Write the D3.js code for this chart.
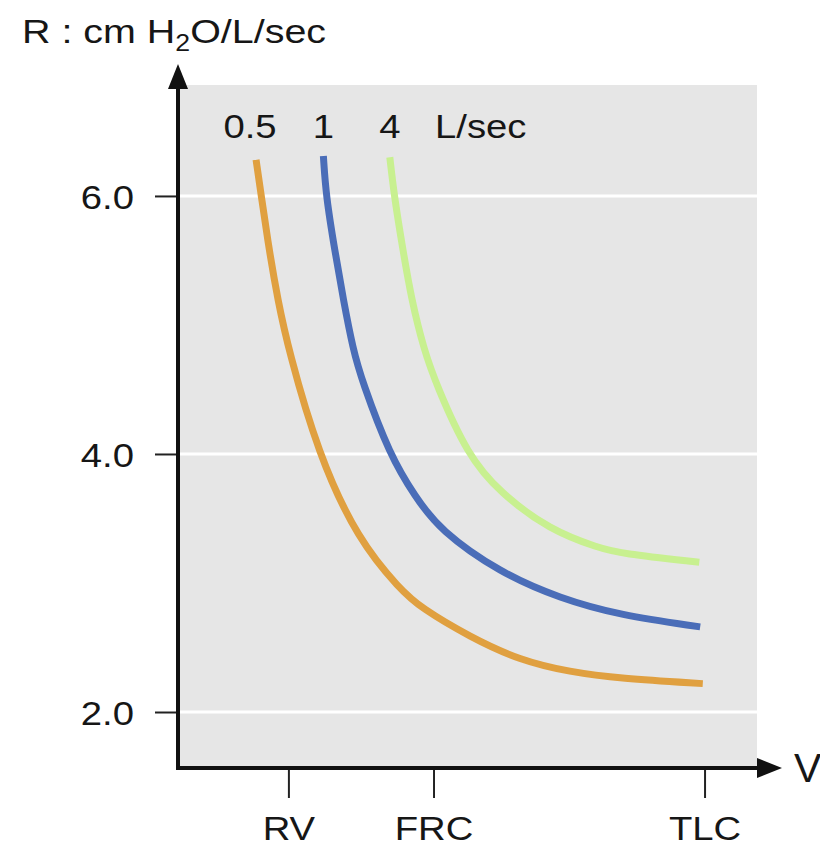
<!DOCTYPE html>
<html>
<head>
<meta charset="utf-8">
<script src="https://cdn.jsdelivr.net/npm/d3@7"></script>
<style>
  body { margin: 0; background: #fff; }
  text { font-family: "Liberation Sans", Arial, sans-serif; fill: #161616; }
</style>
</head>
<body>
<svg id="chart" width="820" height="851"></svg>
<script>
// Flow rates (legend) and curve colours
const flowLabels = ["0.5", "1", "4"];
const flowUnit = "L/sec";
const flowColors = ["#E0A040", "#4A6DB8", "#C8F090"];

// Lung volume (L) ticks on the x axis
const volTickValues = [1.24, 2.9, 6.0];
const volTickLabels = ["RV", "FRC", "TLC"];

// Resistance ticks on the y axis
const resTickValues = [2.0, 4.0, 6.0];

// Curve at 0.5 L/sec
const vol05 = [0.87, 0.93, 1.02, 1.12, 1.24, 1.58, 2.04, 2.52, 2.75, 3.32, 3.89, 4.46, 5.03, 5.98];
const res05 = [6.28, 6.00, 5.58, 5.19, 4.81, 4.00, 3.33, 2.95, 2.81, 2.58, 2.40, 2.31, 2.26, 2.22];

// Curve at 1 L/sec
const vol1 = [1.64, 1.67, 1.77, 1.87, 1.98, 2.08, 2.40, 2.69, 2.97, 3.66, 4.35, 5.03, 5.95];
const res1 = [6.31, 6.00, 5.58, 5.19, 4.81, 4.57, 3.99, 3.67, 3.41, 3.08, 2.88, 2.75, 2.66];

// Curve at 4 L/sec
const vol4 = [2.40, 2.45, 2.55, 2.65, 2.79, 2.93, 3.29, 3.66, 4.23, 4.80, 5.03, 5.94];
const res4 = [6.30, 6.00, 5.58, 5.19, 4.81, 4.54, 3.99, 3.70, 3.41, 3.27, 3.23, 3.16];

const series = [
    { vol: vol05, res: res05 },
    { vol: vol1, res: res1 },
    { vol: vol4, res: res4 }
];

const SX = 1.16;   // the lettering in the figure is a bit wider than Arial

const svg = d3.select('#chart');

// Plot box
const plotLeft = 180, plotRight = 757, plotTop = 85, plotBottom = 768;

const x = d3.scaleLinear().domain([0, 6.6]).range([plotLeft, plotRight]);
const y = d3.scaleLinear().domain([1.566, 6.86]).range([plotBottom, plotTop]);

// Grey panel
svg.append('rect')
    .attr('x', plotLeft).attr('y', plotTop)
    .attr('width', plotRight - plotLeft).attr('height', plotBottom - plotTop)
    .attr('fill', '#E6E6E6');

// White grid lines
svg.selectAll('.grid')
    .data(resTickValues)
    .enter()
    .append('line')
    .attr('class', 'grid')
    .attr('x1', plotLeft).attr('x2', plotRight)
    .attr('y1', d => y(d)).attr('y2', d => y(d))
    .attr('stroke', '#fff')
    .attr('stroke-width', 3);

// Curves
const line = d3.line()
    .x(d => x(d[0]))
    .y(d => y(d[1]))
    .curve(d3.curveBasis);

series.forEach((s, i) => {
    svg.append('path')
        .datum(d3.zip(s.vol, s.res))
        .attr('d', line)
        .attr('fill', 'none')
        .attr('stroke', flowColors[i])
        .attr('stroke-width', 7);
});

// Helper: widen text horizontally around its anchor
function widen(sel, tx, ty) {
    sel.attr('transform', `translate(${tx},${ty}) scale(${SX},1)`);
}

// Y axis
const axisX = 178;
const yAxis = svg.append('g')
    .attr('transform', `translate(${axisX},0)`)
    .call(d3.axisLeft(y).tickValues(resTickValues).tickSize(23).tickFormat(d3.format('.1f')));
yAxis.select('.domain').remove();
yAxis.selectAll('line').attr('stroke', '#222').attr('stroke-width', 2);
yAxis.selectAll('text').each(function() {
    const t = d3.select(this);
    t.attr('x', 0).attr('dy', '0.37em')
        .style('font-size', '33px').attr('fill', '#161616');
    widen(t, -44, 0);
});
yAxis.attr('font-family', null).attr('font-size', null);

// X axis
const xAxis = svg.append('g')
    .attr('transform', `translate(0,${plotBottom})`)
    .call(d3.axisBottom(x).tickValues(volTickValues).tickSize(30).tickFormat((d, i) => volTickLabels[i]));
xAxis.select('.domain').remove();
xAxis.selectAll('line').attr('stroke', '#222').attr('stroke-width', 2);
xAxis.selectAll('text').each(function() {
    const t = d3.select(this);
    t.attr('y', 0).attr('dy', 0)
        .style('font-size', '33px').attr('fill', '#161616');
    widen(t, 0, 72);
});
xAxis.attr('font-family', null).attr('font-size', null);

// Axis lines with arrow heads
svg.append('line')
    .attr('x1', axisX).attr('x2', axisX)
    .attr('y1', plotBottom + 2).attr('y2', 84)
    .attr('stroke', '#111').attr('stroke-width', 4);
svg.append('path')
    .attr('d', `M${axisX},64 L${axisX - 10},89 L${axisX + 10},89 Z`)
    .attr('fill', '#111');

svg.append('line')
    .attr('x1', axisX - 2).attr('x2', 762)
    .attr('y1', plotBottom).attr('y2', plotBottom)
    .attr('stroke', '#111').attr('stroke-width', 4);
svg.append('path')
    .attr('d', `M782,${plotBottom} L757,${plotBottom - 10} L757,${plotBottom + 10} Z`)
    .attr('fill', '#111');

// Axis titles
const title = svg.append('text')
    .style('font-size', '34px');
title.append('tspan').text('R : cm H');
title.append('tspan').text('2').style('font-size', '23px').attr('dy', 8);
title.append('tspan').text('O/L/sec').attr('dy', -8);
widen(title, 22, 43);

svg.append('text')
    .attr('x', 794).attr('y', 782)
    .style('font-size', '41px')
    .text('V');

// Flow labels above the curves
const legendY = 138;
svg.selectAll('.flow')
    .data(flowLabels)
    .enter()
    .append('text')
    .attr('class', 'flow')
    .attr('text-anchor', 'middle')
    .style('font-size', '33px')
    .text(d => d)
    .each(function(d, i) {
        widen(d3.select(this), x(series[i].vol[0]) - (i === 0 ? 6 : 0), legendY);
    });

const unit = svg.append('text')
    .style('font-size', '33px')
    .text(flowUnit);
widen(unit, 435, legendY);
</script>
</body>
</html>
